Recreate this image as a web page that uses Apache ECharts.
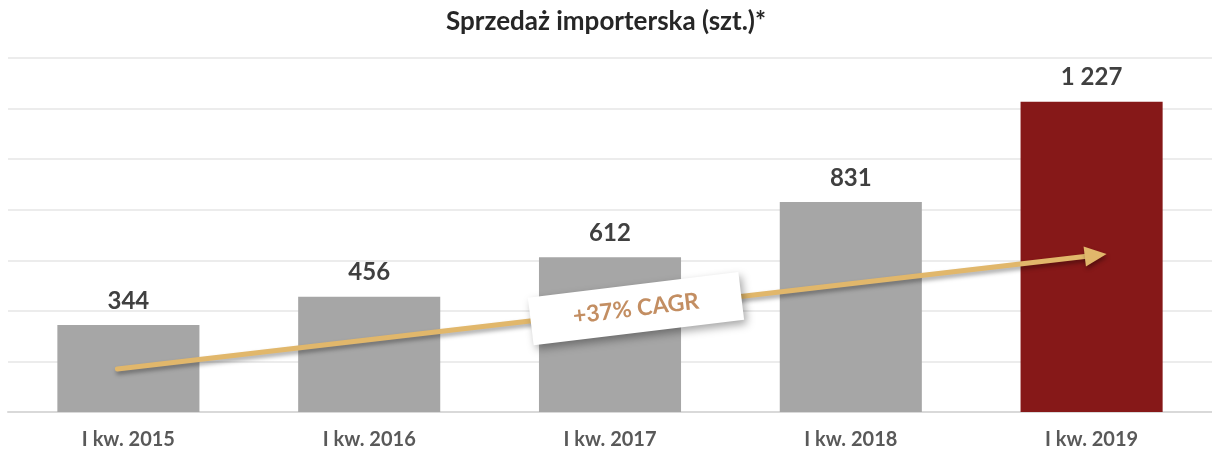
<!DOCTYPE html>
<html><head><meta charset="utf-8">
<script src="https://cdn.jsdelivr.net/npm/echarts@6/dist/echarts.min.js"></script>
<style>html,body{margin:0;padding:0;background:#fff}#c{width:1212px;height:455px}</style>
</head><body><div id="c"></div>
<script>
const categories = ['I kw. 2015','I kw. 2016','I kw. 2017','I kw. 2018','I kw. 2019'];
const values = [344, 456, 612, 831, 1227];
const barColors = ['#a6a6a6','#a6a6a6','#a6a6a6','#a6a6a6','#861818'];
const titleText = 'Sprzedaż importerska (szt.)*';
const cagrText = '+37% CAGR';
// trend arrow anchors: [category index, value]
const arrowStart = [0, 170];
const arrowEnd = [4, 625];

const chart = echarts.init(document.getElementById('c'));
const fmt = v => { const s = String(v); return s.length > 3 ? s.slice(0, s.length-3) + ' ' + s.slice(-3) : s; };
chart.setOption({
  animation: false,
  title: { text: titleText, left: 'center', top: 4,
    textStyle: { fontFamily: 'Lato', fontWeight: 'bold', fontSize: 26, color: '#262626' } },
  grid: { left: 8, top: 58, width: 1205, height: 354, containLabel: false },
  xAxis: { type: 'category', data: categories,
    axisLine: { lineStyle: { color: '#d9d9d9', width: 2 } },
    axisTick: { show: false },
    axisLabel: { fontFamily: 'Lato', fontWeight: 'bold', fontSize: 20, color: '#595959', margin: 18 } },
  yAxis: { type: 'value', min: 0, max: 1400, interval: 200,
    axisLabel: { show: false }, axisLine: { show: false }, axisTick: { show: false },
    splitLine: { lineStyle: { color: '#ececec', width: 2 } } },
  series: [{ type: 'bar', barWidth: '59%',
    data: values.map((v, i) => ({ value: v, itemStyle: { color: barColors[i] } })),
    label: { show: true, position: 'top', distance: 12, formatter: p => fmt(p.value),
      fontFamily: 'Lato', fontWeight: 'bold', fontSize: 24, color: '#404040' } }]
});

function draw() {
  const p0 = chart.convertToPixel({ gridIndex: 0 }, arrowStart);
  const p1 = chart.convertToPixel({ gridIndex: 0 }, arrowEnd);
  const s = [p0[0] - 11, p0[1]];
  const e = [p1[0] + 15, p1[1]];
  const dx = e[0] - s[0], dy = e[1] - s[1];
  const len = Math.sqrt(dx*dx + dy*dy);
  const ux = dx/len, uy = dy/len, nx = -uy, ny = ux;
  const headLen = 22, headHalf = 10;
  const base = [e[0] - ux*headLen, e[1] - uy*headLen];
  const lineEnd = [e[0] - ux*(headLen-2), e[1] - uy*(headLen-2)];
  const shadow = { shadowColor: 'rgba(0,0,0,0.35)', shadowBlur: 4, shadowOffsetX: 1, shadowOffsetY: 3 };
  const pm = chart.convertToPixel({ gridIndex: 0 }, [2, 0]);
  const cx = pm[0] + 26;
  const cy = s[1] + (e[1]-s[1]) * ((cx - s[0]) / dx);
  const ang = Math.atan2(-dy, dx);
  chart.setOption({ graphic: [
    { type: 'line', shape: { x1: s[0], y1: s[1], x2: lineEnd[0], y2: lineEnd[1] },
      style: Object.assign({ stroke: '#e1b76b', lineWidth: 5, lineCap: 'round' }, shadow), z: 10 },
    { type: 'polygon', shape: { points: [e, [base[0] + nx*headHalf, base[1] + ny*headHalf], [base[0] - nx*headHalf, base[1] - ny*headHalf]] },
      style: Object.assign({ fill: '#e1b76b' }, shadow), z: 10 },
    { type: 'group', x: cx, y: cy, rotation: ang + 0.005, z: 20, children: [
      { type: 'rect', shape: { x: -106, y: -24, width: 212, height: 48 },
        style: { fill: '#ffffff', shadowColor: 'rgba(0,0,0,0.35)', shadowBlur: 8, shadowOffsetX: 3, shadowOffsetY: 4 }, z: 20 },
      { type: 'text', x: 0, y: 0, style: { text: cagrText, x: 0, y: 0, align: 'center', verticalAlign: 'middle',
        font: 'bold 23px Lato', fill: '#c38e62' }, z: 21 }
    ] }
  ] });
}
draw();
</script>
</body></html>
